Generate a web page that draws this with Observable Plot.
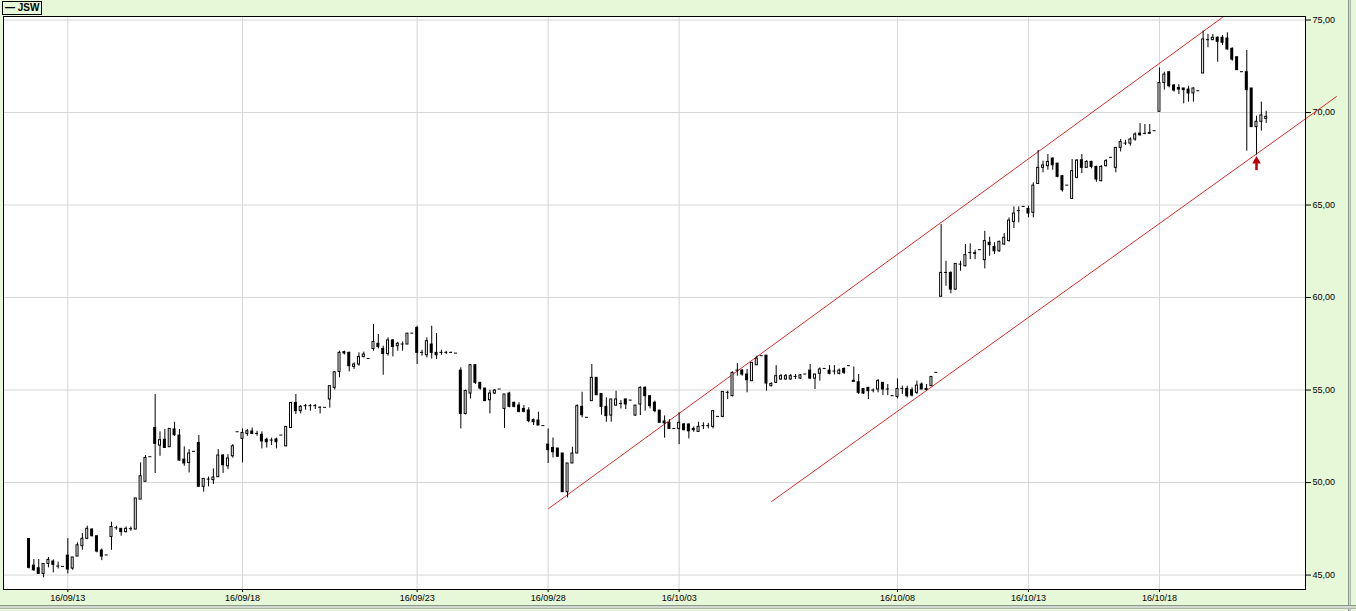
<!DOCTYPE html>
<html><head><meta charset="utf-8">
<script src="https://cdn.jsdelivr.net/npm/d3@7"></script>
<script src="https://cdn.jsdelivr.net/npm/@observablehq/plot@0.6"></script>
<style>
html,body{margin:0;padding:0;background:#e6f8d8;}
#wrap{position:relative;width:1356px;height:611px;overflow:hidden;background:#e6f8d8;}
#chart{position:absolute;left:0;top:0;}
#legend{position:absolute;left:2px;top:1px;width:40px;height:14px;border:1px solid #000;box-sizing:border-box;
  font:bold 10px "Liberation Sans",Arial,sans-serif;line-height:12px;color:#000;padding-left:2px;white-space:nowrap;background:#e6f8d8;}
#rborder{position:absolute;left:1348px;top:0;width:3px;height:611px;border-left:1px solid #8a9a8a;border-right:1px solid #b0b8b0;background:#d0d8d0;box-sizing:border-box;}
#bborder{position:absolute;left:0;top:605px;width:1356px;height:4px;border-top:1px solid #8a9a8a;border-bottom:1px solid #b0b8b0;background:#d0d8d0;box-sizing:border-box;}
</style></head>
<body><div id="wrap"><div id="chart"></div><div id="legend">— JSW</div><div id="rborder"></div><div id="bborder"></div></div>
<script>
// Tick positions (candle index of first hourly candle of the labelled date) and labels
const dateTickIdx = [8, 44, 80, 107, 134, 179, 206, 233];
const dateLabels = ["16/09/13","16/09/18","16/09/23","16/09/28","16/10/03","16/10/08","16/10/13","16/10/18"];
const priceTicks = [45, 50, 55, 60, 65, 70, 75];

// Hourly OHLC, JSW
const opens = [
46.95,45.51,45.37,45.06,45.60,45.73,45.46,45.44,46.05,45.35,
46.00,46.56,46.96,47.46,47.10,46.32,46.06,47.06,47.53,47.50,
47.32,47.48,47.46,49.08,50.04,51.37,52.95,52.00,52.31,51.91,
52.87,52.54,51.24,51.06,51.66,52.14,49.77,50.16,50.13,50.29,
51.46,50.88,51.42,52.72,52.36,52.63,52.76,52.63,52.58,52.31,
52.27,52.33,52.54,51.96,52.95,54.30,53.86,54.13,54.13,54.13,
54.04,54.04,54.49,55.12,55.98,57.05,57.01,56.25,56.38,56.78,
56.68,57.22,57.50,57.22,56.95,57.68,57.37,57.46,57.46,58.05,
58.36,57.01,56.88,57.46,57.01,57.01,57.01,57.01,56.97,56.05,
53.71,54.81,56.34,55.39,55.08,54.45,54.81,55.03,53.98,54.81,
54.31,54.16,53.98,53.89,53.37,53.35,53.05,52.05,51.87,51.84,
51.57,49.48,51.03,51.57,54.09,53.50,54.40,55.66,54.79,54.09,
53.62,54.16,54.25,54.49,54.43,53.62,54.22,55.12,54.67,54.31,
53.89,53.30,53.23,52.90,52.90,53.14,53.14,52.90,52.74,53.05,
53.05,53.01,53.55,53.55,54.85,54.67,56.05,56.05,55.84,55.48,
56.34,56.83,56.86,55.21,55.39,55.57,55.57,55.57,55.71,55.62,
55.84,56.05,55.62,55.88,56.14,56.05,56.00,55.88,56.14,56.29,
55.50,55.42,55.06,55.12,54.97,55.03,55.39,55.03,54.67,54.63,
55.06,55.06,54.99,54.85,55.30,55.00,55.21,55.93,60.04,61.33,
61.33,60.43,61.78,61.69,62.41,62.40,62.56,62.02,62.96,62.74,
62.50,62.87,63.05,64.09,64.67,64.90,64.79,64.58,66.14,67.01,
67.10,67.51,67.24,66.56,66.05,65.33,66.47,67.42,67.01,67.33,
67.06,66.29,67.10,67.55,67.01,68.09,68.32,68.32,68.54,68.86,
68.85,68.90,68.99,70.04,71.60,72.18,71.46,71.33,71.30,71.24,
71.03,71.15,72.11,73.91,73.91,74.04,74.04,74.00,73.44,72.99,
72.18,72.18,71.30,69.21,69.50,69.66];
const highs = [
46.98,45.84,45.84,45.60,45.95,45.82,45.70,45.44,46.97,45.95,
46.74,47.24,47.64,47.50,47.10,46.41,46.06,47.86,47.64,47.50,
47.60,47.60,49.14,51.06,51.46,51.37,54.76,52.74,52.87,52.90,
53.26,52.87,51.93,51.78,51.66,52.54,50.20,50.30,50.74,51.78,
51.51,51.51,52.05,52.72,52.90,52.87,52.95,52.77,52.74,52.40,
52.40,52.40,52.54,53.01,54.34,54.76,54.16,54.22,54.22,54.22,
54.10,54.04,55.21,56.00,57.10,57.10,57.05,56.47,57.01,57.05,
56.68,58.54,58.00,57.37,57.82,57.73,57.58,57.60,58.05,58.05,
58.45,57.15,57.82,58.45,58.05,57.15,57.10,57.05,56.97,56.20,
55.00,56.38,56.38,55.39,55.08,54.99,55.03,55.03,54.76,54.88,
54.34,54.31,54.16,54.04,53.44,53.80,53.05,52.90,52.41,51.84,
51.57,51.03,51.91,54.20,54.88,53.50,56.38,55.66,54.79,54.58,
54.49,54.94,54.43,54.52,54.43,54.16,55.17,55.17,54.67,54.40,
53.89,53.60,53.40,52.90,53.77,53.20,53.17,53.00,53.26,53.23,
53.20,53.86,53.55,54.90,54.94,55.98,56.43,56.11,56.11,56.47,
56.83,56.83,56.86,55.39,56.32,55.84,55.84,55.84,55.84,55.84,
55.84,56.38,55.84,56.20,56.14,56.32,56.32,56.14,56.20,56.29,
56.25,55.84,55.06,55.12,55.06,55.57,55.39,55.30,54.67,55.60,
55.21,55.21,55.12,55.48,55.39,55.30,55.71,55.93,63.95,61.96,
61.39,61.82,61.96,62.87,62.90,62.56,62.56,63.58,63.26,62.96,
63.05,63.46,64.30,64.90,64.90,64.90,64.94,66.20,67.96,67.37,
67.73,67.55,67.24,66.60,66.05,67.46,67.46,67.73,67.40,67.37,
67.10,67.13,67.46,67.55,68.09,68.54,68.50,68.63,68.90,69.40,
69.35,69.35,68.99,72.41,72.18,72.18,71.51,71.51,71.30,71.42,
71.33,71.15,74.40,74.22,74.22,74.09,74.16,74.31,73.50,72.99,
72.18,73.35,71.30,69.80,70.56,70.07];
const lows = [
45.33,45.20,45.06,44.85,45.39,45.12,45.33,45.44,45.06,45.26,
46.00,46.34,46.92,47.06,46.20,45.78,46.06,46.34,47.42,47.10,
47.28,47.37,47.46,49.08,50.04,51.37,50.49,51.42,51.87,51.91,
52.50,51.15,50.88,50.52,51.66,49.77,49.48,49.77,49.89,50.29,
50.49,50.70,51.32,52.72,51.06,52.50,52.60,52.50,51.82,51.87,
52.00,51.82,52.54,51.93,52.95,53.68,53.71,53.91,53.86,53.95,
53.71,54.04,54.02,55.00,55.66,56.90,55.98,56.11,56.29,56.74,
56.68,57.10,57.22,55.80,56.83,56.79,57.10,57.10,57.46,58.05,
56.38,56.83,56.74,56.68,56.65,56.88,56.92,56.97,56.97,52.90,
53.65,54.52,55.30,54.99,54.40,53.71,54.76,55.03,52.92,54.04,
54.04,53.77,53.77,53.23,53.08,53.08,53.05,51.03,51.33,51.39,
49.48,49.17,51.03,51.57,53.50,53.50,54.40,54.72,53.64,53.26,
53.26,54.13,53.98,53.95,54.43,53.59,53.62,53.86,53.98,53.77,
53.23,52.40,52.86,52.90,52.05,52.80,52.36,52.72,52.72,52.86,
52.90,52.90,53.55,53.50,54.49,54.63,55.75,55.75,54.85,55.48,
56.34,56.83,54.94,55.17,55.35,55.53,55.53,55.53,55.57,55.57,
55.84,55.57,55.03,55.48,56.14,55.82,55.82,55.82,55.84,56.29,
55.42,54.76,54.76,54.49,54.85,54.85,54.70,54.70,54.67,54.52,
54.76,54.58,54.63,54.76,55.03,54.98,55.21,55.93,60.04,60.61,
60.20,60.40,61.42,61.66,62.05,62.05,62.56,61.55,62.23,62.32,
62.45,62.81,63.00,63.73,64.04,64.90,64.31,64.31,66.14,66.74,
66.88,66.88,66.47,65.70,66.05,65.30,66.42,66.70,67.01,66.96,
66.23,66.25,67.06,67.55,66.74,67.87,68.22,68.18,68.45,68.72,
68.80,68.85,68.99,70.04,71.21,71.33,71.10,70.97,70.47,70.56,
70.56,71.15,72.11,73.50,73.91,72.72,73.62,73.37,72.77,72.29,
72.18,67.91,69.21,67.70,68.99,69.41];
const closes = [
45.39,45.26,45.06,45.60,45.82,45.55,45.46,45.44,45.30,45.95,
46.61,46.96,47.50,47.10,46.27,46.00,46.06,47.60,47.53,47.32,
47.50,47.48,49.14,50.34,51.33,51.37,52.09,52.29,51.87,52.90,
52.56,51.19,51.03,51.57,51.66,49.77,50.20,50.16,50.27,51.46,
50.94,51.30,51.96,52.72,52.68,52.77,52.63,52.63,52.22,52.18,
52.27,52.18,52.54,53.01,54.30,53.86,54.09,54.13,54.13,54.13,
54.04,54.04,55.21,55.96,57.01,56.98,56.29,56.38,56.78,56.92,
56.68,57.60,57.33,56.95,57.68,57.33,57.50,57.46,58.05,58.05,
57.01,57.01,57.64,57.01,56.88,57.01,57.01,57.01,56.97,53.71,
54.95,56.34,55.39,55.08,54.40,54.81,54.97,55.03,54.76,54.09,
54.09,53.82,53.82,53.32,53.26,53.08,53.05,51.75,51.64,51.39,
49.48,51.03,51.57,54.13,53.64,53.50,55.66,54.72,54.09,53.59,
54.49,54.49,54.25,54.22,54.43,54.16,55.12,54.67,54.13,53.86,
53.23,53.20,52.90,52.90,53.23,52.83,52.77,52.83,53.01,53.05,
53.05,53.86,53.55,54.90,54.85,55.93,56.05,55.84,55.53,56.47,
56.70,56.83,55.35,55.33,55.75,55.75,55.75,55.75,55.71,55.79,
55.84,55.62,55.84,56.11,56.14,55.88,56.00,56.05,55.93,56.29,
55.44,54.85,54.81,54.94,54.97,55.48,55.03,55.03,54.67,55.06,
55.06,54.67,54.70,55.24,55.03,55.06,55.71,55.93,61.33,61.33,
60.43,61.82,61.78,62.29,62.41,62.36,62.56,63.05,62.83,62.50,
63.01,63.23,64.16,64.54,64.67,64.90,64.54,66.05,67.01,67.14,
67.33,67.15,66.52,65.80,66.05,66.83,67.40,67.01,67.33,67.06,
66.38,67.06,67.37,67.55,68.09,68.40,68.32,68.54,68.81,68.77,
68.85,68.85,68.99,71.60,72.05,71.42,71.19,71.24,71.21,71.03,
71.30,71.15,73.95,73.91,74.04,73.82,73.77,73.41,72.86,72.29,
72.18,71.21,69.21,69.50,69.84,69.77];

// Trend channel lines (candle index, price)
const upperLineIdx = [107.07, 245.98];
const upperLinePrice = [48.59, 75.14];
const lowerLineIdx = [153.03, 269.48];
const lowerLinePrice = [48.97, 70.86];

// Annotation arrow under the candle that touched the lower channel line
const arrowIdx = [253];
const arrowTipPrice = [67.38];
const arrowBasePrice = [66.86];

const candles = opens.map((o, i) => ({
  i, open: o, high: highs[i], low: lows[i], close: closes[i],
  top: Math.max(o, closes[i]), bot: Math.min(o, closes[i]), up: closes[i] > o
}));
const upperLine = upperLineIdx.map((x, k) => ({x, y: upperLinePrice[k]}));
const lowerLine = lowerLineIdx.map((x, k) => ({x, y: lowerLinePrice[k]}));
const arrows = arrowIdx.map((x, k) => ({x, tip: arrowTipPrice[k], base: arrowBasePrice[k]}));

const red = "#dd2a2a";
const chart = Plot.plot({
  width: 1356, height: 611,
  marginLeft: 3, marginRight: 51, marginTop: 16, marginBottom: 22,
  x: {type: "linear", domain: [-5.26, 263.1], axis: null},
  y: {domain: [44.22, 75.19], axis: null},
  style: {background: "transparent", fontFamily: "'Liberation Sans', Arial, sans-serif", fontSize: "9px", overflow: "visible", color: "#000"},
  marks: [
    Plot.frame({fill: "white", stroke: null}),
    Plot.gridY(priceTicks, {stroke: "#d6d6d6", strokeOpacity: 1}),
    Plot.gridX(dateTickIdx, {stroke: "#d6d6d6", strokeOpacity: 1}),
    Plot.axisY(priceTicks, {anchor: "right", tickSize: 5, tickPadding: 2, fontSize: 9,
      tickFormat: d => d.toFixed(2).replace(".", ",")}),
    Plot.axisX(dateTickIdx, {anchor: "bottom", tickSize: 3, tickPadding: 2, fontSize: 9,
      tickFormat: d => dateLabels[dateTickIdx.indexOf(d)]}),
    Plot.line(upperLine, {x: "x", y: "y", stroke: red, strokeWidth: 1}),
    Plot.line(lowerLine, {x: "x", y: "y", stroke: red, strokeWidth: 1}),
    Plot.ruleX(candles, {x: "i", y1: "low", y2: "high", stroke: "#000", strokeWidth: 1, ariaLabel: "wick"}),
    // outer body (black), 3px wide
    Plot.rect(candles, {x1: "i", x2: "i", y1: "bot", y2: "top", fill: "#000", ariaLabel: "body",
      insetLeft: -1.5, insetRight: -1.5, insetTop: -0.5, insetBottom: -0.5}),
    // hollow interior for rising candles
    Plot.rect(candles.filter(d => d.up), {x1: "i", x2: "i", y1: "bot", y2: "top", fill: "#fff", ariaLabel: "hollow",
      insetLeft: -0.5, insetRight: -0.5, insetTop: 0.5, insetBottom: 0.5}),
    Plot.ruleX(arrows, {x: "x", y1: "tip", y2: "base", stroke: "#c00000", strokeWidth: 2.5}),
    Plot.dot(arrows, {x: "x", y: "tip", symbol: "triangle", r: 3.2, fill: "#c00000", stroke: null}),
    Plot.frame({stroke: "#000"})
  ]
});
document.getElementById("chart").appendChild(chart);

// Snap candle bodies and wicks to whole pixels so they stay crisp like the original
function offsetOf(g) {
  const t = g.getAttribute("transform");
  const m = t && t.match(/translate\(\s*([-\d.]+)[ ,]+([-\d.]+)\s*\)/);
  return m ? [+m[1], +m[2]] : [0, 0];
}
function snapRects(label) {
  chart.querySelectorAll(`g[aria-label="${label}"]`).forEach(g => {
    const [ox, oy] = offsetOf(g);
    g.querySelectorAll("rect").forEach(r => {
      const x = +r.getAttribute("x") + ox, w = +r.getAttribute("width");
      const y = +r.getAttribute("y") + oy, h = +r.getAttribute("height");
      const x0 = Math.round(x), y0 = Math.round(y), y1 = Math.round(y + h);
      r.setAttribute("x", x0 - ox);
      r.setAttribute("width", Math.round(w));
      r.setAttribute("y", y0 - oy);
      r.setAttribute("height", Math.max(label === "hollow" ? 0 : 1, y1 - y0));
    });
  });
}
snapRects("body");
snapRects("hollow");
chart.querySelectorAll('g[aria-label="wick"]').forEach(g => {
  const [ox, oy] = offsetOf(g);
  g.querySelectorAll("line").forEach(l => {
    const c = +l.getAttribute("x1") + ox;
    const xc = Math.round(c - 0.5) + 0.5;
    l.setAttribute("x1", xc - ox);
    l.setAttribute("x2", xc - ox);
    ["y1", "y2"].forEach(a => {
      const v = +l.getAttribute(a) + oy;
      l.setAttribute(a, Math.round(v) - oy);
    });
  });
});
</script>
</body></html>
